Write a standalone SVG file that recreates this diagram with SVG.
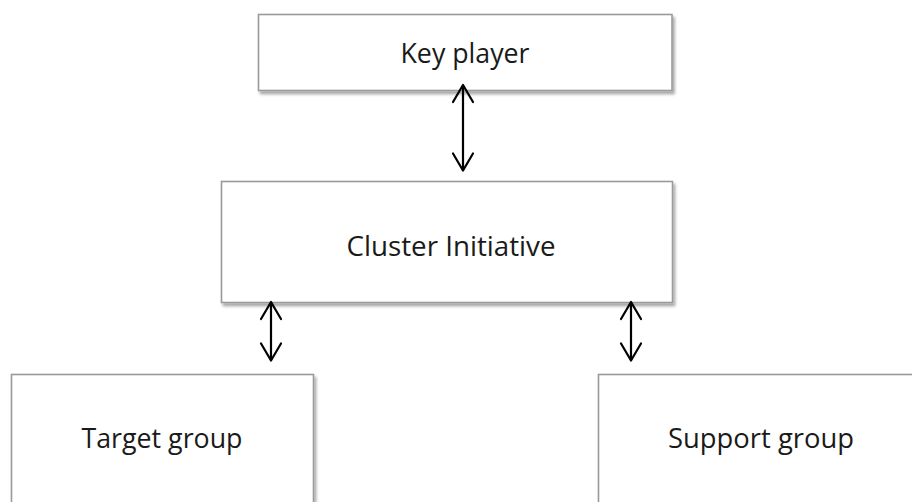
<svg xmlns="http://www.w3.org/2000/svg" width="912" height="502" viewBox="0 0 912 502">
  <defs>
    <filter id="shadow" x="-5%" y="-10%" width="115%" height="130%">
      <feGaussianBlur in="SourceAlpha" stdDeviation="1.6"/>
      <feOffset dx="1.5" dy="2.5" result="b"/>
      <feComponentTransfer><feFuncA type="linear" slope="0.35"/></feComponentTransfer>
      <feMerge><feMergeNode/><feMergeNode in="SourceGraphic"/></feMerge>
    </filter>
    <!-- open V arrowhead, tip at the line end -->
    <marker id="head" viewBox="0 0 24 24" refX="22" refY="12" markerWidth="24" markerHeight="24" markerUnits="userSpaceOnUse" orient="auto-start-reverse">
      <path d="M5,2 L22,12 L5,22" fill="none" stroke="#000" stroke-width="2.2" stroke-linecap="round" stroke-linejoin="round"/>
    </marker>
  </defs>
  <style>
    .box { fill: #ffffff; stroke: #9a9a9a; stroke-width: 1.6; }
    .label { font-family: "Open Sans", "Liberation Sans", sans-serif; font-size: 27px; fill: #1a1a1a; text-anchor: middle; }
    .link { fill: none; stroke: #000; stroke-width: 2.2; marker-start: url(#head); marker-end: url(#head); }
  </style>
  <rect width="912" height="502" fill="#ffffff"/>

  <g id="key-player">
    <rect class="box" x="258.5" y="14.5" width="413.5" height="76" filter="url(#shadow)"/>
    <text class="label" x="465" y="63" textLength="129" lengthAdjust="spacingAndGlyphs">Key player</text>
  </g>

  <g id="cluster-initiative">
    <rect class="box" x="221.5" y="181.5" width="451" height="121" filter="url(#shadow)"/>
    <text class="label" x="451" y="256" textLength="209" lengthAdjust="spacingAndGlyphs">Cluster Initiative</text>
  </g>

  <g id="target-group">
    <rect class="box" x="11.5" y="374.5" width="302" height="140" filter="url(#shadow)"/>
    <text class="label" x="162" y="448" textLength="161" lengthAdjust="spacingAndGlyphs">Target group</text>
  </g>

  <g id="support-group">
    <rect class="box" x="598.5" y="374.5" width="330" height="140" filter="url(#shadow)"/>
    <text class="label" x="761" y="448" textLength="186" lengthAdjust="spacingAndGlyphs">Support group</text>
  </g>

  <g id="connectors">
    <line class="link" x1="463" y1="85" x2="463" y2="170.5"/>
    <line class="link" x1="271" y1="302" x2="271" y2="360.5"/>
    <line class="link" x1="631" y1="302" x2="631" y2="360.5"/>
  </g>
</svg>
